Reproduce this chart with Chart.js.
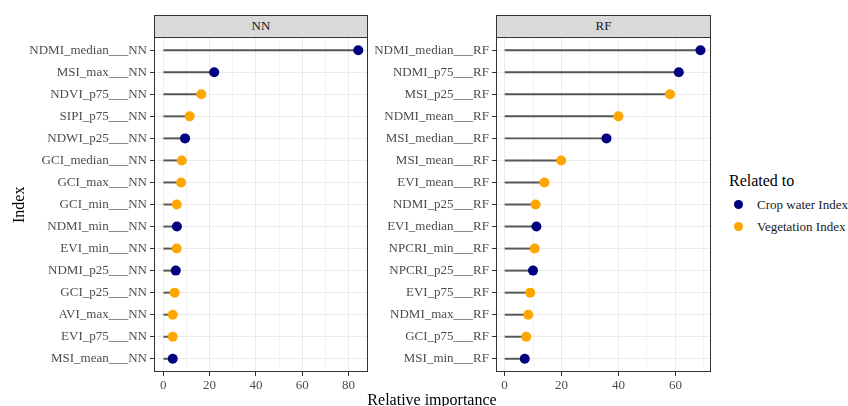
<!DOCTYPE html>
<html>
<head>
<meta charset="utf-8">
<script src="https://cdn.jsdelivr.net/npm/chart.js@4/dist/chart.umd.min.js"></script>
<style>
  html, body { margin: 0; padding: 0; background: #fff; }
  body { width: 848px; height: 406px; position: relative; overflow: hidden; font-family: 'Liberation Serif', 'DejaVu Serif', serif; }
  canvas { position: absolute; }
  .strip { position: absolute; box-sizing: border-box; border: 1px solid #333; background: #d9d9d9; color: #1a1a1a; font-size: 13px; text-align: center; line-height: 20px; }
  .txt { position: absolute; white-space: nowrap; color: #000; }
  .dot { position: absolute; width: 9px; height: 9px; border-radius: 50%; }
</style>
</head>
<body>
<div class="strip" style="left:154px; top:15px; width:214px; height:23px;">NN</div>
<div class="strip" style="left:496px; top:15px; width:215px; height:23px;">RF</div>
<canvas id="cNN" width="370" height="369" style="left:0px; top:37px;"></canvas>
<canvas id="cRF" width="342" height="369" style="left:372px; top:37px;"></canvas>
<div class="txt" style="left:1px; top:196px; width:36px; font-size:16px; transform: rotate(-90deg); transform-origin: 18px 9px; text-align:center;">Index</div>
<div class="txt" style="left:332px; top:391px; width:200px; font-size:16px; text-align:center;">Relative importance</div>
<div class="txt" style="left:729px; top:172px; font-size:16px;">Related to</div>
<div class="dot" style="left:734px; top:200px; background:#00007f;"></div>
<div class="txt" style="left:757px; top:197px; font-size:13px; color:#1a1a1a;">Crop water Index</div>
<div class="dot" style="left:734px; top:222px; background:#FFA500;"></div>
<div class="txt" style="left:757px; top:219px; font-size:13px; color:#1a1a1a;">Vegetation Index</div>
<script>
// ---- data ----
const namesNN = ['NDMI_median___NN','MSI_max___NN','NDVI_p75___NN','SIPI_p75___NN','NDWI_p25___NN','GCI_median___NN','GCI_max___NN','GCI_min___NN','NDMI_min___NN','EVI_min___NN','NDMI_p25___NN','GCI_p25___NN','AVI_max___NN','EVI_p75___NN','MSI_mean___NN'];
const valuesNN = [84.2, 22.0, 16.4, 11.4, 9.4, 8.0, 7.7, 5.8, 5.9, 5.8, 5.4, 4.9, 4.1, 4.1, 4.1];
const groupNN = ['Crop water Index','Crop water Index','Vegetation Index','Vegetation Index','Crop water Index','Vegetation Index','Vegetation Index','Vegetation Index','Crop water Index','Vegetation Index','Crop water Index','Vegetation Index','Vegetation Index','Vegetation Index','Crop water Index'];

const namesRF = ['NDMI_median___RF','NDMI_p75___RF','MSI_p25___RF','NDMI_mean___RF','MSI_median___RF','MSI_mean___RF','EVI_mean___RF','NDMI_p25___RF','EVI_median___RF','NPCRI_min___RF','NPCRI_p25___RF','EVI_p75___RF','NDMI_max___RF','GCI_p75___RF','MSI_min___RF'];
const valuesRF = [68.8, 61.2, 58.1, 40.0, 35.8, 19.9, 14.0, 10.9, 11.2, 10.6, 10.0, 9.0, 8.3, 7.6, 7.1];
const groupRF = ['Crop water Index','Crop water Index','Vegetation Index','Vegetation Index','Crop water Index','Vegetation Index','Vegetation Index','Vegetation Index','Crop water Index','Vegetation Index','Crop water Index','Vegetation Index','Vegetation Index','Vegetation Index','Crop water Index'];

const xTicks = [0, 20, 40, 60, 80];
const groupColors = { 'Crop water Index': '#00007f', 'Vegetation Index': '#FFA500' };

const FONT = { family: "'Liberation Serif', 'DejaVu Serif', serif", size: 13 };

const borderPlugin = {
  id: 'panelBorder',
  afterDraw(chart) {
    const a = chart.chartArea, ctx = chart.ctx;
    ctx.save();
    ctx.strokeStyle = '#333';
    ctx.lineWidth = 1;
    ctx.strokeRect(Math.round(a.left) + 0.5, Math.round(a.top) + 0.5, Math.round(a.right - a.left) - 1, Math.round(a.bottom - a.top) - 1);
    ctx.restore();
  }
};

function makeChart(id, names, values, groups, xmin, xmax, yWidth, padRight) {
  const pts = values.map((v, i) => ({ x: v, y: i }));
  const isRow = c => c.tick && Number.isInteger(c.tick.value) && c.tick.value >= 0 && c.tick.value < names.length;
  return new Chart(document.getElementById(id), {
    type: 'bar',
    data: {
      datasets: [
        { type: 'bar', data: pts, backgroundColor: '#555555', barThickness: 1.3, borderWidth: 0, order: 2 },
        { type: 'line', data: pts, showLine: false, pointRadius: 5, pointBorderWidth: 0,
          pointBackgroundColor: groups.map(g => groupColors[g]), order: 1 }
      ]
    },
    options: {
      indexAxis: 'y',
      responsive: false,
      animation: false,
      layout: { autoPadding: false, padding: { top: 0, right: padRight, bottom: 0, left: 0 } },
      plugins: { legend: { display: false }, tooltip: { enabled: false } },
      scales: {
        x: {
          type: 'linear', min: xmin, max: xmax, offset: false,
          ticks: {
            stepSize: 10, includeBounds: false, autoSkip: false, maxRotation: 0,
            color: '#4d4d4d', font: FONT, padding: 2,
            callback: v => xTicks.includes(v) ? String(v) : ''
          },
          grid: {
            offset: false,
            color: c => (c.tick && xTicks.includes(c.tick.value)) ? '#ebebeb' : (c.tick && c.tick.value > xmin && c.tick.value < xmax ? '#f4f4f4' : 'rgba(0,0,0,0)'),
            tickColor: c => (c.tick && xTicks.includes(c.tick.value)) ? '#333' : 'rgba(0,0,0,0)',
            tickLength: 4, drawTicks: true
          },
          border: { display: false },
          afterFit: s => { s.height = 34; s.paddingLeft = 0; s.paddingRight = 0; }
        },
        y: {
          type: 'linear', min: -0.6, max: names.length - 0.4, reverse: true, offset: false,
          ticks: {
            stepSize: 1, includeBounds: false, autoSkip: false,
            color: '#4d4d4d', font: FONT, padding: 3,
            callback: v => (Number.isInteger(v) && names[v] !== undefined) ? names[v] : ''
          },
          grid: {
            offset: false,
            color: c => isRow(c) ? '#ebebeb' : 'rgba(0,0,0,0)',
            tickColor: c => isRow(c) ? '#333' : 'rgba(0,0,0,0)',
            tickLength: 4, drawTicks: true
          },
          border: { display: false },
          afterFit: s => { s.width = yWidth; s.paddingTop = 0; s.paddingBottom = 0; }
        }
      }
    },
    plugins: [borderPlugin]
  });
}

makeChart('cNN', namesNN, valuesNN, groupNN, -4.0, 88.4, 154, 2);
makeChart('cRF', namesRF, valuesRF, groupRF, -3.0, 72.5, 124, 3);
</script>
</body>
</html>
